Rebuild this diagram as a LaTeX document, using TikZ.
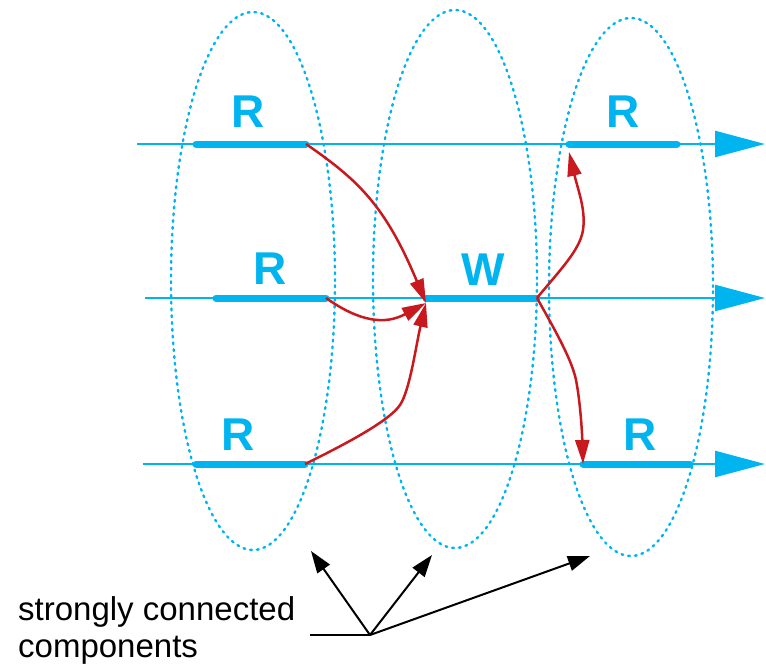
\documentclass[tikz,border=0pt]{standalone}
\usepackage{fontspec}
\setmainfont{Liberation Sans}
\usetikzlibrary{arrows.meta,shapes.geometric}
\definecolor{sccblue}{RGB}{0,180,240}
\definecolor{depred}{RGB}{200,25,30}

\begin{document}
\begin{tikzpicture}[x=1pt,y=-1pt,
  scc/.style={draw=sccblue,line width=2.4pt,dash pattern=on 1.8pt off 5pt,line cap=round,
    ellipse,minimum width=164pt,minimum height=538pt,inner sep=0pt},
  timeline/.style={draw=sccblue,line width=2.4pt,-{Triangle[length=50pt,width=26pt]}},
  access/.style={draw=sccblue,line width=7pt,line cap=round},
  acclabel/.style={anchor=base,text=sccblue,font=\bfseries\fontsize{46}{50}\selectfont},
  dep/.style={draw=depred,line width=2.5pt,-{Triangle[length=24pt,width=14pt]}},
  pointer/.style={draw=black,line width=2pt,-{Triangle[length=22pt,width=15pt]}}]
  \useasboundingbox (0,0) rectangle (766,665);

  % components
  \node[scc] (scc1) at (253,281) {};
  \node[scc] (scc2) at (455,279) {};
  \node[scc] (scc3) at (631,287) {};

  % time lines
  \coordinate (t1s) at (137,144);
  \coordinate (t1e) at (765,144);
  \coordinate (t2s) at (145,298);
  \coordinate (t2e) at (765,298);
  \coordinate (t3s) at (143,464);
  \coordinate (t3e) at (765,464);
  \draw[timeline] (t1s) -- (t1e);
  \draw[timeline] (t2s) -- (t2e);
  \draw[timeline] (t3s) -- (t3e);

  % accesses
  \coordinate (r1a) at (196,144);
  \coordinate (r1b) at (306,144);
  \coordinate (r2a) at (216,298);
  \coordinate (r2b) at (326,298);
  \coordinate (wa) at (426,298);
  \coordinate (wb) at (537,298);
  \coordinate (r3a) at (196,464);
  \coordinate (r3b) at (305,464);
  \coordinate (r4a) at (569,144);
  \coordinate (r4b) at (677,144);
  \coordinate (r6a) at (583,464);
  \coordinate (r6b) at (690,464);
  \draw[access] (r1a) -- (r1b);
  \draw[access] (r2a) -- (r2b);
  \draw[access] (wa) -- (wb);
  \draw[access] (r3a) -- (r3b);
  \draw[access] (r4a) -- (r4b);
  \draw[access] (r6a) -- (r6b);
  \node[acclabel] (lr1) at (248,127) {R};
  \node[acclabel] (lr2) at (270,284) {R};
  \node[acclabel] (lw) at (483,285) {W};
  \node[acclabel] (lr3) at (238,450) {R};
  \node[acclabel] (lr4) at (623,127) {R};
  \node[acclabel] (lr6) at (640,450) {R};

  % dependences
  \coordinate (win) at (426,303);
  \draw[dep] (r1b) .. controls (358,180) and (385,205) .. (win);
  \draw[dep] (r2b) .. controls (360,322) and (385,325) .. (win);
  \draw[dep] (r3b) .. controls (350,442) and (390,420) .. (400,405)
    .. controls (410,390) and (416,345) .. (win);
  \draw[dep] (wb) .. controls (560,270) and (580,250) .. (583,230)
    .. controls (586,210) and (578,190) .. ([yshift=-8pt]r4a);
  \draw[dep] (wb) .. controls (555,330) and (572,360) .. (576,380)
    .. controls (580,400) and (582,430) .. (r6a);

  % caption
  \node[anchor=north west,align=left,inner sep=0pt,font=\fontsize{33}{37}\selectfont]
    (caption) at (18,596) {strongly connected\\components};
  \coordinate (tick) at (310,635);
  \coordinate (hub) at (370,635);
  \coordinate (p1) at (311,551);
  \coordinate (p2) at (432,555);
  \coordinate (p3) at (590,556);
  \draw[line width=2pt] (tick) -- (hub);
  \draw[pointer] (hub) -- (p1);
  \draw[pointer] (hub) -- (p2);
  \draw[pointer] (hub) -- (p3);
\end{tikzpicture}
\end{document}
